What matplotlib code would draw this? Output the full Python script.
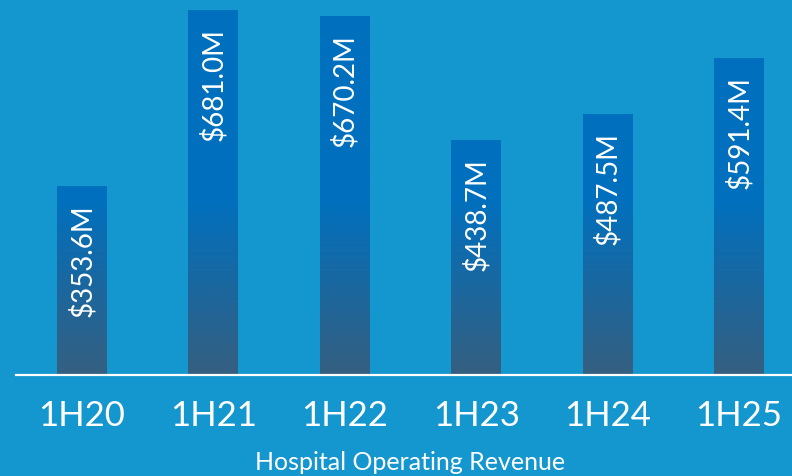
import numpy as np
import matplotlib
matplotlib.use("Agg")
import matplotlib.pyplot as plt
from matplotlib.colors import LinearSegmentedColormap

categories = ["1H20", "1H21", "1H22", "1H23", "1H24", "1H25"]
values = [353.6, 681.0, 670.2, 438.7, 487.5, 591.4]
value_labels = ["$353.6M", "$681.0M", "$670.2M", "$438.7M", "$487.5M", "$591.4M"]
axis_title = "Hospital Operating Revenue"

BG = "#1496CF"
TOP = "#0070BE"
BOTTOM = "#355F80"

plt.rcParams['font.family'] = ['Lato', 'DejaVu Sans']

W, H = 792, 477
fig = plt.figure(figsize=(W / 100, H / 100), dpi=100, facecolor=BG)
ax = fig.add_axes([16 / W, (H - 376) / H, (W - 16) / W, 376 / H])
ax.set_facecolor(BG)

ymax = 702
ax.set_xlim(-0.502, 5.403)
ax.set_ylim(0, ymax)

x = np.arange(len(categories))
bars = ax.bar(x, values, width=0.38, color="none", edgecolor="none", zorder=2)

# absolute vertical gradient (dark slate at bottom, blue higher up)
cmap = LinearSegmentedColormap.from_list("g", [BOTTOM, TOP])
ys = np.linspace(0, ymax, 400)
t = np.clip(ys / 330.0, 0, 1)
img = t[:, None] * np.ones((1, 2))
for b in bars:
    im = ax.imshow(img, cmap=cmap, vmin=0, vmax=1, origin="lower", aspect="auto",
                   extent=[-0.502, 5.403, 0, ymax], zorder=2, interpolation="bilinear")
    im.set_clip_path(b)
ax.set_xlim(-0.502, 5.403)
ax.set_ylim(0, ymax)

for xi, v, lab in zip(x, values, value_labels):
    ax.annotate(lab, (xi, v), xytext=(0, -12.5), textcoords="offset points",
                rotation=90, ha="center", va="top", color="white", fontsize=20, zorder=3)

ax.axhline(0, color="white", lw=1.6, zorder=4, clip_on=False)

for s in ax.spines.values():
    s.set_visible(False)
ax.set_yticks([])
ax.set_xticks(x)
ax.set_xticklabels(categories, color="white", fontsize=25)
ax.tick_params(axis="x", length=0, pad=17)

fig.text(410 / W, (H - 470) / H, axis_title, color="white", fontsize=18,
         ha="center", va="baseline")

fig.savefig("out.png", dpi=100, facecolor=BG)
